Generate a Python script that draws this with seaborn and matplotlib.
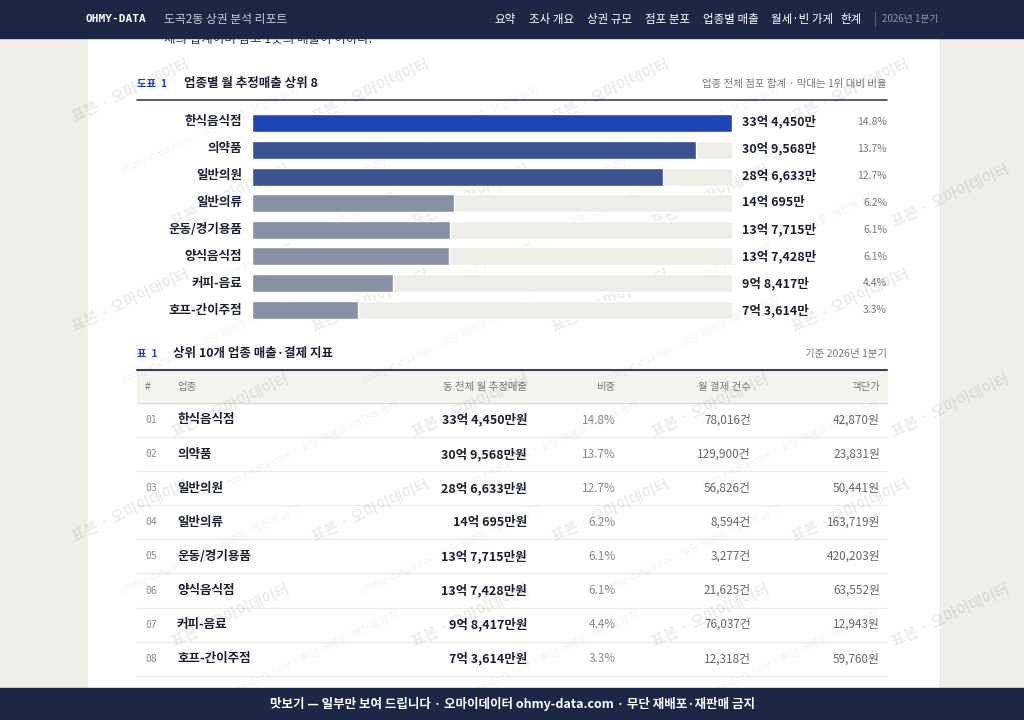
import matplotlib
matplotlib.use('Agg')
import matplotlib.pyplot as plt
import seaborn as sns
import pandas as pd

sns.set_theme(style='white')
plt.rcParams['font.family'] = ['Noto Sans CJK KR', 'DejaVu Sans']

# 데이터
categories = ['한식음식점', '의약품', '일반의원', '일반의류', '운동/경기용품', '양식음식점', '커피-음료', '호프-간이주점']
sales_eok = [33, 30, 28, 14, 13, 13, 9, 7]
sales_man = [4450, 9568, 6633, 695, 7715, 7428, 8417, 3614]
shares = [14.8, 13.7, 12.7, 6.2, 6.1, 6.1, 4.4, 3.3]
pay_counts = [78016, 129900, 56826, 8594, 3277, 21625, 76037, 12318]
unit_price = [42870, 23831, 50441, 163719, 420203, 63552, 12943, 59760]

NAVY = '#1b2745'
bar_colors = ['#1e45b8', '#3b5292', '#3b5292', '#8890a4', '#8890a4', '#8890a4', '#8890a4', '#8890a4']

df = pd.DataFrame({'cat': categories,
                   'sales': [e * 10000 + m for e, m in zip(sales_eok, sales_man)]})
df['track'] = df['sales'].max()

fig = plt.figure(figsize=(10.24, 7.2), dpi=100)
fig.patch.set_facecolor('#efeee9')
bg = fig.add_axes([0, 0, 1, 1])
bg.set_xlim(0, 1024)
bg.set_ylim(720, 0)
bg.axis('off')

# 본문 패널
bg.add_patch(plt.Rectangle((88, 0), 850, 720, color='white', zorder=0))

# 상단바
bg.add_patch(plt.Rectangle((0, 0), 1024, 38, color=NAVY, zorder=5))
bg.text(85, 19, 'OHMY-DATA', color='white', fontsize=8, weight='bold', va='center', family='DejaVu Sans Mono', zorder=6)
bg.text(164, 19, '도곡2동 상권 분석 리포트', color='#c8cdd8', fontsize=8.5, va='center', zorder=6)
nav = [('요약', 494), ('조사 개요', 529), ('상권 규모', 587), ('점포 분포', 645), ('업종별 매출', 703), ('월세·빈 가게', 771), ('한계', 840)]
for t, x in nav:
    bg.text(x, 19, t, color='white', fontsize=8.3, va='center', zorder=6)
bg.plot([875, 875], [12, 26], color='#55607a', lw=0.8, zorder=6)
bg.text(882, 19, '2026년 1분기', color='#8d95a8', fontsize=7, va='center', zorder=6)
bg.text(164, 40, '제의 합계이며 참고 1곳의 매출이 이하다.', color='#333', fontsize=9, va='center', zorder=1)

# 도표 헤더
bg.text(137, 84, '도표  1', color='#1e45b8', fontsize=7.5, weight='bold', va='center')
bg.text(184, 84, '업종별 월 추정매출 상위 8', color='#1b2030', fontsize=9, weight='bold', va='center')
bg.text(887, 84, '업종 전체 점포 합계 · 막대는 1위 대비 비율', color='#777', fontsize=7.5, va='center', ha='right')
bg.plot([137, 887], [100, 100], color='#3a4258', lw=1.2)

# 막대 차트
ax = fig.add_axes([252 / 1024, 1 - 323 / 720, 480 / 1024, 213 / 720])
sns.barplot(data=df, x='track', y='cat', color='#eeede8', saturation=1, width=0.68, ax=ax)
sns.barplot(data=df, x='sales', y='cat', hue='cat', palette=bar_colors, saturation=1,
            legend=False, width=0.68, ax=ax)
ax.set_xlim(0, df['sales'].max())
ax.axis('off')
for i, c in enumerate(categories):
    yp = 122 + i * 26.9
    bg.text(242, yp, c, ha='right', va='center', fontsize=9, weight='bold', color='#1b2030')
    bg.text(742, yp, f'{sales_eok[i]}억 {sales_man[i]:,}만', ha='left', va='center', fontsize=9, weight='bold', color='#1b2030')
    bg.text(887, yp, f'{shares[i]}%', ha='right', va='center', fontsize=7.5, color='#777')

# 표 헤더
bg.text(137, 354, '표  1', color='#1e45b8', fontsize=7.5, weight='bold', va='center')
bg.text(173, 354, '상위 10개 업종 매출·결제 지표', color='#1b2030', fontsize=9, weight='bold', va='center')
bg.text(887, 354, '기준 2026년 1분기', color='#777', fontsize=7.5, va='center', ha='right')
bg.plot([137, 887], [370, 370], color='#3a4258', lw=1.5)
bg.add_patch(plt.Rectangle((137, 371), 750, 32, color='#f5f4ef', zorder=0.5))
hy = 387
bg.text(145, hy, '#', fontsize=7.5, color='#777', va='center')
bg.text(177, hy, '업종', fontsize=7.5, color='#777', va='center')
bg.text(527, hy, '동 전체 월 추정매출', fontsize=7.5, color='#777', va='center', ha='right')
bg.text(616, hy, '비중', fontsize=7.5, color='#777', va='center', ha='right')
bg.text(751, hy, '월 결제 건수', fontsize=7.5, color='#777', va='center', ha='right')
bg.text(880, hy, '객단가', fontsize=7.5, color='#777', va='center', ha='right')
bg.plot([137, 887], [403, 403], color='#d8d6cf', lw=0.8)
for i, c in enumerate(categories):
    yc = 420 + i * 34.1
    bg.text(145, yc, f'{i + 1:02d}', fontsize=7, color='#888', va='center', family='DejaVu Sans Mono')
    bg.text(177, yc, c, fontsize=9, color='#1b2030', weight='bold', va='center')
    bg.text(527, yc, f'{sales_eok[i]}억 {sales_man[i]:,}만원', fontsize=9, color='#1b2030', weight='bold', va='center', ha='right')
    bg.text(616, yc, f'{shares[i]}%', fontsize=8.5, color='#888', va='center', ha='right')
    bg.text(751, yc, f'{pay_counts[i]:,}건', fontsize=8.5, color='#666', va='center', ha='right')
    bg.text(880, yc, f'{unit_price[i]:,}원', fontsize=8.5, color='#666', va='center', ha='right')
    bg.plot([137, 887], [yc + 17, yc + 17], color='#ebeae5', lw=0.8)

# 워터마크
for r in range(6):
    for k in range(4):
        x = 130 + k * 240 + (r % 2) * 100
        y = 90 + r * 105
        bg.text(x, y, '표본 · 오마이데이터', rotation=25, fontsize=11, color='#000000', alpha=0.08,
                ha='center', va='center', weight='bold', zorder=8)
        if x + 80 < 930:
            bg.text(x + 80, y + 40, 'ohmy-data.com · 무단 재배포·재판매 금지', rotation=25, fontsize=7.5,
                    color='#000000', alpha=0.06, ha='center', va='center', zorder=8)

# 하단바
bg.add_patch(plt.Rectangle((0, 688), 1024, 32, color=NAVY, zorder=9))
bg.text(512, 704, '맛보기 — 일부만 보여 드립니다 · 오마이데이터 ohmy-data.com · 무단 재배포·재판매 금지',
        color='white', fontsize=9, weight='bold', ha='center', va='center', zorder=10)

fig.savefig('out.png', dpi=100, facecolor=fig.get_facecolor())
